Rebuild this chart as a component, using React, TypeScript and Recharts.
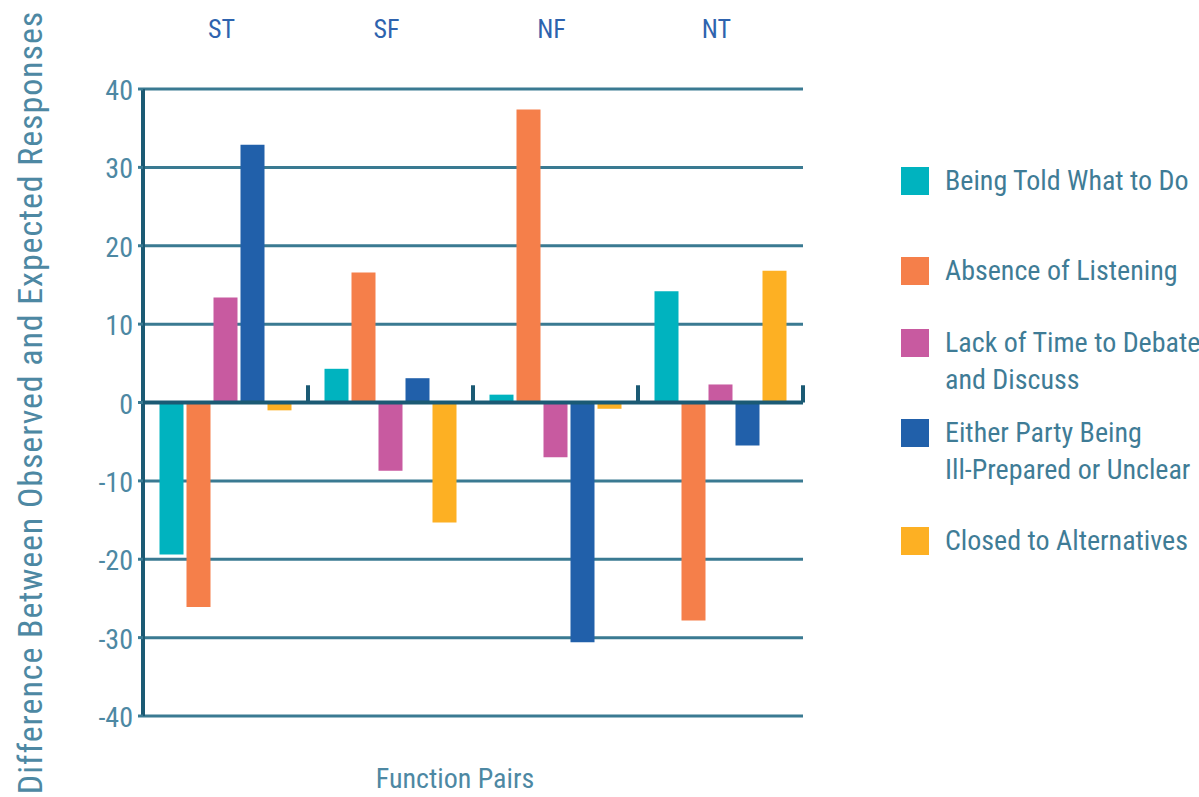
import React from 'react';
import { BarChart, Bar, XAxis, YAxis, CartesianGrid, ReferenceLine, Legend, Label } from 'recharts';

const categories = ['ST', 'SF', 'NF', 'NT'];
const beingTold = [-19.4, 4.3, 1.0, 14.2];
const absenceListening = [-26.1, 16.6, 37.4, -27.8];
const lackTime = [13.4, -8.7, -7.0, 2.3];
const illPrepared = [32.9, 3.1, -30.6, -5.5];
const closedAlt = [-1.0, -15.3, -0.8, 16.8];
const yTicks = [-40, -30, -20, -10, 0, 10, 20, 30, 40];
const boundaries = [1, 2, 3, 4];

const seriesKeys = ['told', 'listen', 'time', 'prep', 'closed'];
const seriesNames = [
  'Being Told What to Do',
  'Absence of Listening',
  'Lack of Time to Debate and Discuss',
  'Either Party Being Ill-Prepared or Unclear',
  'Closed to Alternatives',
];
const legendLines = [
  ['Being Told What to Do'],
  ['Absence of Listening'],
  ['Lack of Time to Debate', 'and Discuss'],
  ['Either Party Being', 'Ill-Prepared or Unclear'],
  ['Closed to Alternatives'],
];
const seriesColors = ['#00b3bf', '#f57f4a', '#c85aa0', '#2160aa', '#fdb023'];
const legendTops = [167, 257, 329, 419, 527];

const seriesValues = [beingTold, absenceListening, lackTime, illPrepared, closedAlt];
const data = categories.map((c, i) => {
  const row: Record<string, any> = { cat: c, idx: i + 0.5 };
  seriesKeys.forEach((k, j) => {
    row[k] = seriesValues[j][i];
  });
  return row;
});

const FONT = "'Roboto Condensed', 'Liberation Sans Narrow', 'DejaVu Sans Condensed', Roboto, sans-serif";
const AXIS_DARK = '#1b5a74';
const GRID = '#3a7a92';
const TICK_TEXT = '#4d88a3';
const CAT_TEXT = '#2e63ae';
const LEGEND_TEXT = '#3f7c96';

const CatTick = (props: any) => {
  const { x, payload } = props;
  return (
    <text x={x - 4} y={38} textAnchor="middle" fill={CAT_TEXT} fontSize={26} fontFamily={FONT}>
      {payload.value}
    </text>
  );
};

const YTick = (props: any) => {
  const { x, y, payload } = props;
  return (
    <text x={x - 2} y={y} dy={11} textAnchor="end" fill={TICK_TEXT} fontSize={28} fontFamily={FONT}>
      {payload.value}
    </text>
  );
};

const LegendContent = (props: any) => {
  const { payload } = props;
  return (
    <div>
      {(payload || []).map((p: any, i: number) => {
        const idx = seriesNames.indexOf(p.value);
        const lines = legendLines[idx] || [p.value];
        return (
          <div
            key={i}
            style={{ position: 'absolute', left: 901, top: legendTops[idx], whiteSpace: 'nowrap' }}
          >
            <div style={{ position: 'absolute', left: 0, top: 0, width: 28, height: 28, background: p.color }} />
            <div
              style={{
                position: 'absolute',
                left: 44,
                top: -5,
                fontFamily: FONT,
                fontSize: 28,
                letterSpacing: '0px',
                lineHeight: '37px',
                color: LEGEND_TEXT,
              }}
            >
              {lines.map((l: string, k: number) => (
                <div key={k}>{l}</div>
              ))}
            </div>
          </div>
        );
      })}
    </div>
  );
};

export default function App() {
  return (
    <div style={{ position: 'absolute', left: 0, top: 0 }}>
      <BarChart
        width={1199}
        height={797}
        data={data}
        margin={{ top: 0, right: 396, bottom: 0, left: 0 }}
        barCategoryGap="10%"
        barGap={3}
      >
        <CartesianGrid vertical={false} stroke={GRID} strokeWidth={3} />
        <XAxis
          dataKey="cat"
          orientation="top"
          height={89}
          axisLine={false}
          tickLine={false}
          tick={<CatTick />}
        />
        <XAxis
          xAxisId="num"
          dataKey="idx"
          type="number"
          domain={[0, 4]}
          allowDataOverflow
          orientation="bottom"
          height={81}
          axisLine={false}
          tickLine={false}
          tick={false}
        >
          <Label
            content={(p: any) => {
              const vb = p.viewBox || {};
              return (
                <text
                  x={vb.x + vb.width / 2 - 18}
                  y={vb.y + 72}
                  textAnchor="middle"
                  fill={TICK_TEXT}
                  fontSize={28}
                  fontFamily={FONT}
                >
                  Function Pairs
                </text>
              );
            }}
          />
        </XAxis>
        <YAxis
          width={143}
          domain={[-40, 40]}
          ticks={yTicks}
          type="number"
          allowDataOverflow
          axisLine={{ stroke: AXIS_DARK, strokeWidth: 4 }}
          tickLine={{ stroke: GRID, strokeWidth: 3 }}
          tickSize={5}
          tickMargin={3}
          tick={<YTick />}
        >
          <Label
            content={(p: any) => {
              const vb = p.viewBox || {};
              const cy = vb.y + vb.height / 2;
              return (
                <text
                  x={30}
                  y={cy}
                  transform={`rotate(-90 30 ${cy})`}
                  textAnchor="middle"
                  dominantBaseline="central"
                  fill={TICK_TEXT}
                  fontSize={34}
                  letterSpacing={0.9}
                  fontFamily={FONT}
                >
                  Difference Between Observed and Expected Responses
                </text>
              );
            }}
          />
        </YAxis>
        <Legend
          layout="horizontal"
          verticalAlign="middle"
          align="center"
          wrapperStyle={{ left: 0, top: 0, width: 0, height: 0 }}
          content={<LegendContent />}
        />
        {seriesKeys.map((k, j) => (
          <Bar key={k} dataKey={k} name={seriesNames[j]} fill={seriesColors[j]} isAnimationActive={false} />
        ))}
        <ReferenceLine y={0} stroke={AXIS_DARK} strokeWidth={4} />
        {boundaries.map((b) => (
          <ReferenceLine
            key={b}
            xAxisId="num"
            ifOverflow="visible"
            segment={[
              { x: b, y: 0 },
              { x: b, y: 2.2 },
            ]}
            stroke={AXIS_DARK}
            strokeWidth={4}
          />
        ))}
      </BarChart>
    </div>
  );
}
